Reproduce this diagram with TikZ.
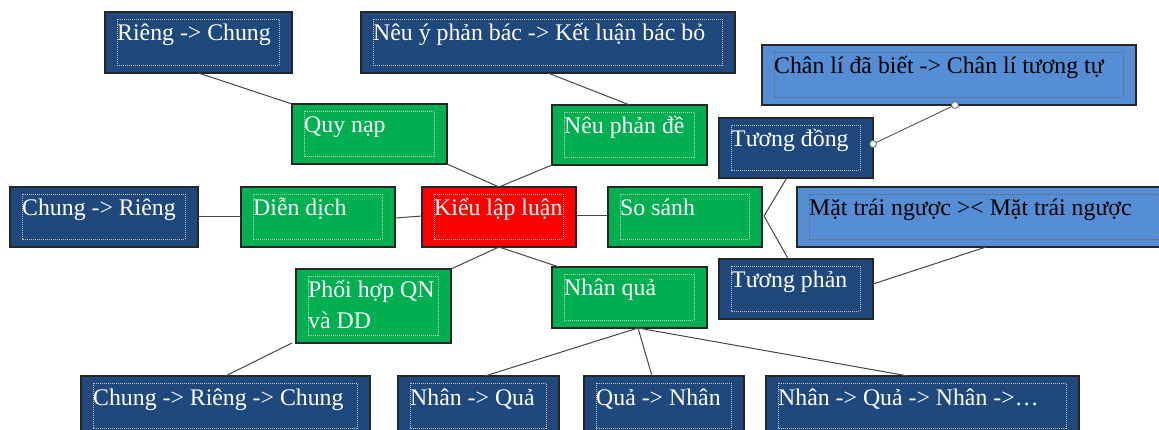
\documentclass[tikz,border=0pt]{standalone}
\usepackage{fontspec}
\setmainfont{Liberation Serif}
\usetikzlibrary{calc}

\definecolor{navy}{RGB}{31,73,125}
\definecolor{leaf}{RGB}{0,176,80}
\definecolor{sky}{RGB}{85,142,213}
\definecolor{wirecol}{RGB}{70,70,70}

\tikzset{
  box/.style={draw=black!85, line width=1.2pt, inner sep=0pt, outer sep=0pt, anchor=north west},
  darkbox/.style={box, fill=navy},
  greenbox/.style={box, fill=leaf},
  redbox/.style={box, fill=red},
  lightbox/.style={box, fill=sky},
  inframe/.style={draw=gray!45!white, line width=0.9pt, dash pattern=on 1pt off 1pt},
  lightframe/.style={draw=gray!80!black, line width=0.9pt, dash pattern=on 1pt off 1pt},
  boxtext/.style={anchor=base west, inner sep=0pt, font=\fontsize{23.8}{31}\selectfont},
  link/.style={draw=wirecol, line width=1pt},
  joint/.style={circle, draw=gray!80!black, fill=cyan!6, line width=0.8pt, inner sep=0pt, minimum size=7pt}
}

% two lines stacked, baseline on the first one
\newcommand\twolines[2]{\vtop{\hbox{#1}\hbox{#2}}}

% #1 name, #2 box style, #3 x, #4 y, #5 width, #6 height, #7 frame style, #8 text colour, #9 text
\newcommand\diagbox[9]{%
  \node[#2, minimum width=#5pt, minimum height=#6pt] (#1) at (#3,#4) {};
  \draw[#7] ($(#1.north west)+(12,7)$) rectangle ($(#1.south east)+(-13,-8)$);
  \node[boxtext, text=#8] (#1-t) at ($(#1.north west)+(12,29)$) {#9};
}

\begin{document}
\begin{tikzpicture}[x=1pt, y=-1pt]
  \useasboundingbox (0,0) rectangle (1159,430);
  \fill[white] (0,0) rectangle (1159,430);
  \clip (0,0) rectangle (1159,430);

  % top row
  \diagbox{rc}{darkbox}{105}{12}{187}{61}{inframe}{white}{Riêng -> Chung}
  \diagbox{nyb}{darkbox}{361}{12}{374}{61}{inframe}{white}{Nêu ý phản bác -> Kết luận bác bỏ}
  \diagbox{cl}{lightbox}{762}{45}{374}{60}{lightframe}{black}{Chân lí đã biết -> Chân lí tương tự}

  % second row
  \diagbox{qn}{greenbox}{292}{104}{155}{60}{inframe}{white}{Quy nạp}
  \diagbox{npd}{greenbox}{552}{105}{155}{60}{inframe}{white}{Nêu phản đề}
  \diagbox{td}{darkbox}{719}{118}{154}{60}{inframe}{white}{Tương đồng}

  % middle row
  \diagbox{cr}{darkbox}{10}{187}{188}{60}{inframe}{white}{Chung -> Riêng}
  \diagbox{dd}{greenbox}{241}{187}{154}{60}{inframe}{white}{Diễn dịch}
  \diagbox{klp}{redbox}{422}{187}{154}{60}{inframe}{white}{Kiểu lập luận}
  \diagbox{ss}{greenbox}{608}{187}{154}{60}{inframe}{white}{So sánh}
  \diagbox{mtn}{lightbox}{797}{187}{378}{60}{lightframe}{black}{Mặt trái ngược >< Mặt trái ngược}

  % fourth row
  \diagbox{tp}{darkbox}{719}{259}{154}{60}{inframe}{white}{Tương phản}
  \diagbox{ph}{greenbox}{296}{269}{155}{74}{inframe}{white}{\twolines{Phối hợp QN}{và DD}}
  \diagbox{nq}{greenbox}{552}{267}{155}{61}{inframe}{white}{Nhân quả}

  % bottom row
  \diagbox{crc}{darkbox}{81}{376}{289}{60}{inframe}{white}{Chung -> Riêng -> Chung}
  \diagbox{nqa}{darkbox}{398}{376}{161}{60}{inframe}{white}{Nhân -> Quả}
  \diagbox{qnh}{darkbox}{584}{376}{160}{60}{inframe}{white}{Quả -> Nhân}
  \diagbox{nqn}{darkbox}{766}{376}{313}{60}{inframe}{white}{Nhân -> Quả -> Nhân ->…}

  % connectors
  \draw[link] (rc.south) -- (qn.north west);
  \draw[link] (nyb.south) -- (npd.north);
  \draw[link] (qn.south east) -- (klp.north);
  \draw[link] (npd.south west) -- (klp.north);
  \draw[link] (cr.east) -- (dd.west);
  \draw[link] ($(dd.east)+(0,1)$) -- ($(klp.west)+(0,-1)$);
  \draw[link] ($(klp.east)+(0,-1)$) -- ($(ss.west)+(0,-1)$);
  \draw[link] (klp.south) -- (ph.north east);
  \draw[link] (klp.south) -- ($(nq.north west)+(7,0)$);
  \draw[link] ($(ss.east)+(2,-1)$) -- ($(td.south west)!.44!(td.south east)$);
  \draw[link] ($(ss.east)+(2,-1)$) -- ($(tp.north west)!.45!(tp.north east)$);
  \draw[link] ($(tp.east)+(0,-5)$) -- (mtn.south);
  \draw[link] ($(ph.south west)+(-4,0)$) -- (crc.north);
  \coordinate (nqb) at ($(nq.south west)!.555!(nq.south east)$);
  \draw[link] (nqb) -- ($(nqa.north west)!.54!(nqa.north east)$);
  \draw[link] (nqb) -- ($(qnh.north west)!.425!(qnh.north east)$);
  \draw[link] (nqb) -- ($(nqn.north west)!.454!(nqn.north east)$);

  % connector with round end handles
  \coordinate (tdc) at ($(td.east)+(0,-4)$);
  \coordinate (clc) at ($(cl.south west)!.516!(cl.south east)$);
  \draw[link, line width=0.8pt] (tdc) -- (clc);
  \node[joint] (j1) at (tdc) {};
  \node[joint] (j2) at (clc) {};
\end{tikzpicture}
\end{document}
